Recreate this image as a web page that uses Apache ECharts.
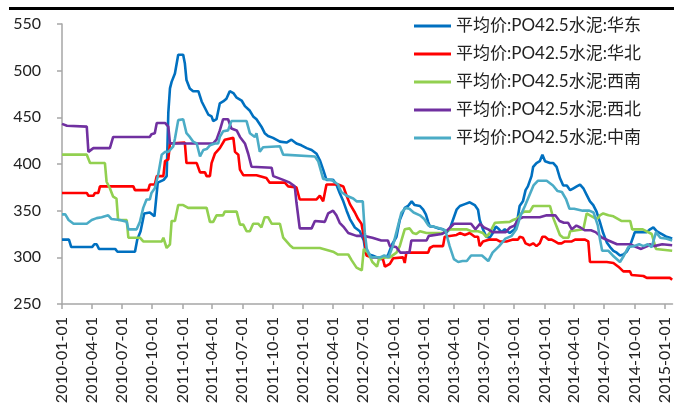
<!DOCTYPE html>
<html><head><meta charset="utf-8">
<script src="https://cdn.jsdelivr.net/npm/echarts@6/dist/echarts.min.js"></script>
<style>html,body{margin:0;padding:0;background:#fff}#c{width:674px;height:406px}</style>
</head><body><div id="c"></div>
<script>
const seriesNames = ['平均价:PO42.5水泥:华东','平均价:PO42.5水泥:华北','平均价:PO42.5水泥:西南','平均价:PO42.5水泥:西北','平均价:PO42.5水泥:中南'];
const tickLabels = ['2010-01-01','2010-04-01','2010-07-01','2010-10-01','2011-01-01','2011-04-01','2011-07-01','2011-10-01','2012-01-01','2012-04-01','2012-07-01','2012-10-01','2013-01-01','2013-04-01','2013-07-01','2013-10-01','2014-01-01','2014-04-01','2014-07-01','2014-10-01','2015-01-01'];
const xStart = '2010-01-01', xEnd = '2015-01-24';

const huadong = [['2010-01-01',319],['2010-01-22',319],['2010-01-29',311],['2010-04-02',311],['2010-04-09',314],['2010-04-16',314],['2010-04-23',309],['2010-06-11',309],['2010-06-18',306],['2010-08-10',306],['2010-08-17',319],['2010-08-27',328],['2010-09-07',347],['2010-09-24',348],['2010-10-08',344],['2010-10-18',380],['2010-11-05',383],['2010-11-14',387],['2010-11-19',455],['2010-11-24',481],['2010-11-29',488],['2010-12-09',497],['2010-12-19',517],['2011-01-03',517],['2011-01-08',508],['2011-01-13',490],['2011-01-23',481],['2011-02-02',478],['2011-02-18',478],['2011-02-28',467],['2011-03-10',460],['2011-03-20',453],['2011-03-30',451],['2011-04-04',446],['2011-04-14',448],['2011-04-24',465],['2011-05-04',467],['2011-05-14',470],['2011-05-24',478],['2011-06-04',476],['2011-06-14',471],['2011-06-29',468],['2011-07-09',462],['2011-07-24',457],['2011-08-03',451],['2011-08-13',448],['2011-08-28',440],['2011-09-07',433],['2011-09-17',430],['2011-10-02',428],['2011-10-23',424],['2011-11-12',423],['2011-11-27',426],['2011-12-12',422],['2011-12-27',420],['2012-01-12',417],['2012-01-27',415],['2012-02-11',411],['2012-02-21',404],['2012-03-02',394],['2012-03-12',383],['2012-04-01',383],['2012-04-11',378],['2012-04-21',369],['2012-05-02',360],['2012-05-12',350],['2012-05-22',341],['2012-06-06',332],['2012-06-21',328],['2012-07-03',318],['2012-07-09',304],['2012-07-29',302],['2012-08-25',298],['2012-09-14',302],['2012-09-27',314],['2012-10-10',322],['2012-10-20',340],['2012-11-04',353],['2012-11-14',355],['2012-11-25',360],['2012-12-04',356],['2012-12-20',355],['2012-12-30',351],['2013-01-07',346],['2013-01-14',338],['2013-01-19',333],['2013-01-29',333],['2013-02-13',331],['2013-02-28',330],['2013-03-08',326],['2013-03-20',330],['2013-03-30',340],['2013-04-10',351],['2013-04-20',355],['2013-05-05',357],['2013-05-20',359],['2013-06-04',356],['2013-06-14',351],['2013-06-19',340],['2013-06-29',330],['2013-07-09',322],['2013-07-19',321],['2013-07-29',326],['2013-08-07',333],['2013-08-14',331],['2013-08-24',327],['2013-09-03',330],['2013-09-18',326],['2013-10-03',330],['2013-10-13',344],['2013-10-18',355],['2013-10-28',360],['2013-11-05',372],['2013-11-12',376],['2013-11-23',387],['2013-11-28',397],['2013-12-08',401],['2013-12-18',403],['2013-12-26',410],['2014-01-03',403],['2014-01-08',405],['2014-01-18',401],['2014-01-28',401],['2014-02-07',397],['2014-02-17',385],['2014-02-27',377],['2014-03-10',377],['2014-03-20',372],['2014-03-30',374],['2014-04-09',376],['2014-04-19',378],['2014-04-29',374],['2014-05-09',367],['2014-05-19',360],['2014-05-29',356],['2014-06-08',349],['2014-06-18',338],['2014-06-28',326],['2014-07-09',316],['2014-07-19',311],['2014-07-29',307],['2014-08-08',305],['2014-08-18',302],['2014-08-28',303],['2014-09-07',306],['2014-09-17',312],['2014-09-27',322],['2014-10-02',327],['2014-11-07',327],['2014-11-17',330],['2014-11-27',332],['2014-12-07',328],['2014-12-17',326],['2014-12-27',324],['2015-01-06',322],['2015-01-16',321],['2015-01-23',320]];

const huabei = [['2010-01-01',369],['2010-03-17',369],['2010-03-22',366],['2010-04-06',366],['2010-04-11',369],['2010-04-21',369],['2010-04-26',376],['2010-06-15',376],['2010-06-20',378],['2010-07-01',376],['2010-08-05',376],['2010-08-10',372],['2010-09-19',372],['2010-09-24',378],['2010-10-09',378],['2010-10-15',387],['2010-11-04',387],['2010-11-09',403],['2010-11-19',405],['2010-11-24',422],['2011-01-08',423],['2011-01-13',401],['2011-02-13',401],['2011-02-23',391],['2011-03-10',391],['2011-03-15',387],['2011-03-25',387],['2011-03-30',401],['2011-04-09',411],['2011-04-24',417],['2011-05-09',426],['2011-06-04',428],['2011-06-09',413],['2011-06-19',410],['2011-06-24',394],['2011-07-04',388],['2011-08-13',388],['2011-08-18',386],['2011-09-12',385],['2011-09-22',380],['2011-11-07',380],['2011-11-17',376],['2011-12-12',375],['2011-12-22',362],['2012-02-11',362],['2012-02-21',366],['2012-03-02',360],['2012-03-12',378],['2012-04-16',378],['2012-05-02',376],['2012-05-12',366],['2012-05-22',357],['2012-06-06',348],['2012-06-16',341],['2012-06-26',336],['2012-07-06',317],['2012-07-11',302],['2012-07-26',300],['2012-08-20',300],['2012-08-30',298],['2012-09-05',290],['2012-09-20',293],['2012-09-30',299],['2012-10-30',300],['2012-11-04',294],['2012-11-09',305],['2013-01-14',305],['2013-01-19',310],['2013-01-29',312],['2013-02-28',312],['2013-03-05',322],['2013-04-10',324],['2013-04-20',326],['2013-05-05',324],['2013-05-20',326],['2013-06-04',322],['2013-06-14',322],['2013-06-19',312],['2013-06-29',317],['2013-07-19',319],['2013-08-09',319],['2013-08-19',317],['2013-09-08',317],['2013-09-28',319],['2013-10-13',319],['2013-10-18',322],['2013-10-28',321],['2013-11-05',315],['2013-11-18',313],['2013-11-28',315],['2013-12-08',312],['2013-12-18',315],['2013-12-26',322],['2014-01-03',322],['2014-01-13',319],['2014-01-23',319],['2014-02-02',317],['2014-02-12',315],['2014-02-22',315],['2014-03-04',317],['2014-03-25',317],['2014-04-04',319],['2014-05-04',319],['2014-05-14',317],['2014-05-19',295],['2014-06-24',295],['2014-06-29',293],['2014-07-09',295],['2014-07-29',294],['2014-08-13',290],['2014-08-28',285],['2014-09-17',285],['2014-09-22',281],['2014-10-28',280],['2014-11-07',278],['2015-01-16',278],['2015-01-23',276]];

const xinan = [['2010-01-01',410],['2010-03-17',410],['2010-03-27',401],['2010-05-11',401],['2010-05-16',381],['2010-05-26',374],['2010-06-05',365],['2010-06-15',363],['2010-06-20',340],['2010-07-16',340],['2010-07-21',321],['2010-08-25',321],['2010-09-04',317],['2010-10-30',317],['2010-11-04',321],['2010-11-14',310],['2010-11-24',314],['2010-11-29',339],['2010-12-09',339],['2010-12-19',356],['2011-01-03',356],['2011-01-18',353],['2011-03-15',353],['2011-03-25',338],['2011-04-04',338],['2011-04-14',345],['2011-05-04',345],['2011-05-09',349],['2011-06-14',349],['2011-06-24',335],['2011-07-04',335],['2011-07-14',328],['2011-07-24',328],['2011-08-03',336],['2011-08-18',336],['2011-08-28',332],['2011-09-07',343],['2011-09-17',343],['2011-09-28',336],['2011-10-23',336],['2011-11-02',321],['2011-11-22',313],['2011-12-02',310],['2012-02-21',310],['2012-02-26',308],['2012-04-01',306],['2012-04-16',303],['2012-05-17',303],['2012-05-27',297],['2012-06-11',289],['2012-06-27',286],['2012-07-03',309],['2012-07-16',305],['2012-07-29',295],['2012-08-12',290],['2012-08-18',298],['2012-09-01',300],['2012-09-20',300],['2012-10-10',305],['2012-10-20',312],['2012-10-30',324],['2012-11-04',330],['2012-11-19',331],['2012-11-29',326],['2012-12-09',325],['2012-12-20',328],['2013-01-09',326],['2013-02-28',326],['2013-03-20',330],['2013-05-10',330],['2013-05-25',328],['2013-06-14',328],['2013-06-29',326],['2013-07-09',322],['2013-07-19',326],['2013-08-04',337],['2013-08-09',338],['2013-09-18',338],['2013-09-28',340],['2013-10-13',342],['2013-10-23',347],['2013-11-02',349],['2013-11-18',349],['2013-11-28',355],['2014-01-18',355],['2014-01-28',342],['2014-02-07',333],['2014-02-17',324],['2014-02-27',321],['2014-03-15',321],['2014-03-20',328],['2014-03-25',330],['2014-04-29',330],['2014-05-09',347],['2014-05-19',345],['2014-06-03',342],['2014-06-13',342],['2014-06-18',345],['2014-06-28',347],['2014-07-14',345],['2014-07-29',344],['2014-08-22',339],['2014-09-18',339],['2014-09-24',330],['2014-10-26',330],['2014-11-22',325],['2014-12-05',309],['2015-01-23',307]];

const xibei = [['2010-01-01',443],['2010-01-16',441],['2010-01-21',440],['2010-03-17',440],['2010-03-22',413],['2010-03-27',412],['2010-04-06',417],['2010-05-26',417],['2010-06-05',429],['2010-09-24',429],['2010-09-29',432],['2010-10-09',433],['2010-10-15',444],['2010-11-09',444],['2010-11-19',440],['2010-11-24',422],['2011-04-04',422],['2011-04-14',426],['2011-04-24',436],['2011-05-04',448],['2011-05-19',448],['2011-05-29',438],['2011-06-14',436],['2011-06-24',429],['2011-07-09',422],['2011-07-19',411],['2011-07-29',397],['2011-09-28',396],['2011-10-03',387],['2011-11-02',383],['2011-11-22',380],['2011-12-07',376],['2011-12-12',359],['2011-12-17',358],['2011-12-22',331],['2012-01-27',331],['2012-02-06',339],['2012-03-07',338],['2012-03-17',347],['2012-04-01',350],['2012-04-11',345],['2012-04-21',337],['2012-05-02',333],['2012-05-17',326],['2012-06-11',323],['2012-07-03',323],['2012-07-29',321],['2012-08-25',318],['2012-09-14',318],['2012-09-20',312],['2012-10-09',311],['2012-10-22',305],['2012-11-18',305],['2012-11-24',318],['2013-01-09',318],['2013-01-16',323],['2013-02-24',325],['2013-03-07',327],['2013-04-02',336],['2013-05-24',336],['2013-06-06',330],['2013-06-20',336],['2013-07-02',332],['2013-07-15',330],['2013-07-28',327],['2013-09-06',327],['2013-09-19',332],['2013-10-02',334],['2013-10-15',341],['2013-10-28',343],['2013-12-18',343],['2014-01-08',345],['2014-02-03',345],['2014-02-16',339],['2014-03-01',337],['2014-03-14',337],['2014-03-25',330],['2014-04-08',334],['2014-04-20',332],['2014-05-03',329],['2014-05-22',329],['2014-06-05',327],['2014-06-25',321],['2014-07-14',318],['2014-08-09',314],['2014-09-18',314],['2014-10-06',311],['2014-10-21',309],['2014-11-09',312],['2014-11-16',314],['2014-11-29',312],['2014-12-24',314],['2015-01-23',313]];

const zhongnan = [['2010-01-01',346],['2010-01-11',346],['2010-01-21',340],['2010-02-05',336],['2010-03-17',336],['2010-04-01',340],['2010-04-16',342],['2010-05-01',343],['2010-05-21',345],['2010-05-31',341],['2010-06-05',340],['2010-06-25',340],['2010-07-01',338],['2010-07-16',338],['2010-07-21',330],['2010-08-15',330],['2010-08-25',338],['2010-09-04',353],['2010-09-14',362],['2010-09-24',362],['2010-09-29',369],['2010-10-09',374],['2010-10-19',388],['2010-10-30',410],['2010-11-09',413],['2010-11-19',413],['2010-12-04',419],['2010-12-09',427],['2010-12-19',447],['2011-01-03',448],['2011-01-13',433],['2011-01-23',429],['2011-02-02',424],['2011-02-13',422],['2011-02-23',408],['2011-03-05',415],['2011-03-15',416],['2011-03-25',420],['2011-04-09',422],['2011-04-19',422],['2011-04-24',429],['2011-05-04',435],['2011-05-19',436],['2011-05-29',446],['2011-07-14',446],['2011-07-24',433],['2011-08-08',429],['2011-08-13',433],['2011-08-23',413],['2011-09-02',418],['2011-10-23',419],['2011-11-02',410],['2012-02-06',408],['2012-02-16',403],['2012-03-02',384],['2012-03-27',383],['2012-04-16',378],['2012-04-26',370],['2012-05-12',366],['2012-06-01',363],['2012-06-11',360],['2012-06-30',360],['2012-07-06',327],['2012-07-12',309],['2012-07-25',300],['2012-08-21',300],['2012-09-03',302],['2012-09-16',300],['2012-09-29',312],['2012-10-12',330],['2012-10-25',348],['2012-11-07',353],['2012-11-18',352],['2012-12-01',348],['2012-12-20',345],['2013-01-02',341],['2013-01-15',334],['2013-02-10',332],['2013-03-07',329],['2013-03-20',312],['2013-04-02',298],['2013-04-15',295],['2013-04-28',296],['2013-05-11',296],['2013-05-24',302],['2013-06-26',302],['2013-07-15',296],['2013-07-28',305],['2013-08-17',312],['2013-09-05',320],['2013-09-24',323],['2013-10-08',330],['2013-10-21',345],['2013-11-03',355],['2013-11-16',366],['2013-11-29',377],['2013-12-12',382],['2014-01-08',382],['2014-01-27',377],['2014-02-10',371],['2014-02-23',370],['2014-03-08',362],['2014-03-18',352],['2014-04-01',352],['2014-04-27',350],['2014-05-17',350],['2014-05-30',348],['2014-06-12',334],['2014-06-18',320],['2014-06-25',307],['2014-07-14',307],['2014-07-27',302],['2014-08-18',295],['2014-08-30',302],['2014-09-12',311],['2014-09-29',312],['2014-10-15',314],['2014-10-28',312],['2014-11-10',314],['2014-11-22',311],['2014-12-05',327],['2014-12-18',321],['2015-01-07',320],['2015-01-23',318]];

const colors = ['#0070C0','#FF0000','#92D050','#7030A0','#4BACC6'];
const allData = [huadong, huabei, xinan, xibei, zhongnan];

function toTime(s){ const p = s.split('-').map(Number); return new Date(p[0], p[1]-1, p[2]).getTime(); }
function pad(n){ return (n<10?'0':'')+n; }
function fmt(v){ const d = new Date(v); return d.getFullYear()+'-'+pad(d.getMonth()+1)+'-'+pad(d.getDate()); }

const tickValues = tickLabels.map(toTime);
const axisGrey = '#A6A6A6';
const fontLatin = 'Lato, "Noto Sans CJK SC", sans-serif';

const chart = echarts.init(document.getElementById('c'), null, {renderer:'canvas'});
chart.setOption({
  animation: false,
  backgroundColor: '#fff',
  graphic: [{type:'rect', shape:{x:9, y:7, width:665, height:3}, style:{fill:'#000'}, silent:true}],
  grid: {left: 62, right: 1.5, top: 24, height: 280, containLabel: false, outerBoundsMode: 'none'},
  legend: {
    orient: 'vertical', left: 409, top: 12, itemWidth: 37, itemHeight: 3, icon: 'rect', itemGap: 10,
    data: seriesNames,
    textStyle: {fontSize: 17, lineHeight: 18, color: '#222', fontFamily: fontLatin}
  },
  xAxis: {
    type: 'value', min: toTime(xStart), max: toTime(xEnd), scale: true,
    axisLine: {show: true, lineStyle: {color: axisGrey, width: 1.5}},
    axisTick: {show: true, length: 5, customValues: tickValues, lineStyle: {color: axisGrey, width: 1.5}},
    splitLine: {show: false},
    minorTick: {show: false},
    axisLabel: {customValues: tickValues, formatter: fmt, rotate: 90, margin: 13, fontSize: 16, color: '#222', fontFamily: fontLatin, showMinLabel: true, showMaxLabel: true}
  },
  yAxis: {
    type: 'value', min: 250, max: 550, interval: 50,
    axisLine: {show: true, lineStyle: {color: axisGrey, width: 1.5}},
    axisTick: {show: true, length: 5, lineStyle: {color: axisGrey, width: 1.5}},
    splitLine: {show: false},
    axisLabel: {margin: 21, fontSize: 16, color: '#222', fontFamily: fontLatin}
  },
  series: allData.map((d, i) => ({
    name: seriesNames[i], type: 'line', showSymbol: false, symbol: 'none',
    color: colors[i], lineStyle: {width: 2.6, color: colors[i]},
    data: d.map(p => [toTime(p[0]), p[1]])
  }))
});
</script></body></html>
